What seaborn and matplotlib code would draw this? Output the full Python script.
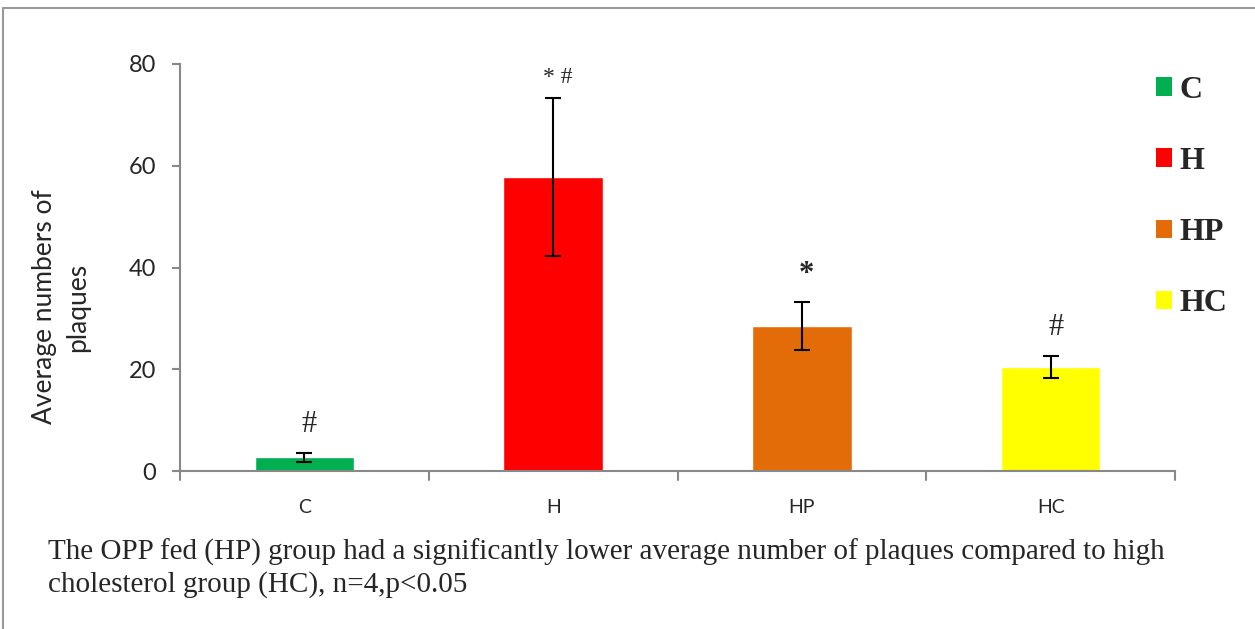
import matplotlib
matplotlib.use("Agg")
import matplotlib.pyplot as plt
import seaborn as sns
import pandas as pd
from matplotlib.lines import Line2D
from matplotlib.patches import Patch

groups = ["C", "H", "HP", "HC"]
means = [2.7, 57.8, 28.5, 20.5]
errors = [0.9, 15.6, 4.7, 2.2]
marks = ["#", "* #", "*", "#"]
colors = ["#00B050", "#FF0000", "#E36C09", "#FFFF00"]
caption = ("The OPP fed (HP) group had a significantly lower average number of plaques compared to high\n"
           "cholesterol group (HC), n=4,p<0.05")

sns.set_theme(style="white")
plt.rcParams['font.family'] = ['Lato', 'DejaVu Sans']

df = pd.DataFrame({"group": groups, "mean": means})
fig = plt.figure(figsize=(12.55, 6.29), dpi=100)
ax = fig.add_axes([180/1255, 1-471/629, 995/1255, 407/629])
sns.barplot(data=df, x="group", y="mean", hue="group", palette=colors,
            width=0.4, legend=False, ax=ax, saturation=1)
ax.errorbar(range(len(groups)), means, yerr=errors, fmt="none", ecolor="black",
            elinewidth=1.5, capsize=6, capthick=1.5)

ax.set_xlim(-0.5, 3.5)
ax.set_ylim(0, 80)
ax.set_yticks([0, 20, 40, 60, 80])
ax.tick_params(axis="y", labelsize=17, length=6, width=1.5, color="#888888", left=True, pad=11)
ax.tick_params(axis="x", labelsize=14, bottom=False, pad=14)
for x in [-0.5, 0.5, 1.5, 2.5, 3.5]:
    ax.plot([x, x], [0, -1.8], color="#888888", lw=1.5, clip_on=False)
for s in ["top", "right"]:
    ax.spines[s].set_visible(False)
for s in ["left", "bottom"]:
    ax.spines[s].set_color("#888888")
    ax.spines[s].set_linewidth(1.5)
ax.set_xlabel("")
ax.set_ylabel("Average numbers of\nplaques", fontsize=19, linespacing=1.4)
ax.yaxis.set_label_coords(-0.0905, 0.403)

for i, (m, e, t) in enumerate(zip(means, errors, marks)):
    if i == 1:
        ax.text(i + 0.02, m + e + 1.8, t, ha="center", va="bottom", fontsize=17,
                family="Liberation Serif")
    else:
        ax.text(i + 0.02, m + e + 2.6, t, ha="center", va="bottom", fontsize=22,
                family="Liberation Serif", weight="bold" if i == 2 else "normal")

handles = [Patch(facecolor=c, edgecolor="none") for c in colors]
leg = fig.legend(handles, groups, loc="upper left", bbox_to_anchor=(1127/1255, 1-47/629),
                 frameon=False, handlelength=0.5, handleheight=0.5, handletextpad=0.25,
                 labelspacing=1.32, prop={"family": "Liberation Serif", "weight": "bold", "size": 23})

fig.text(48/1255, 1-539/629, caption, ha="left", va="top", fontsize=21,
         family="Liberation Serif", linespacing=1.22)

fig.add_artist(Line2D([3/1255, 3/1255], [0, 1-8/629], color="#999999", lw=1.5))
fig.add_artist(Line2D([3/1255, 1], [1-8/629, 1-8/629], color="#999999", lw=1.5))

fig.savefig("out.png", dpi=100)
